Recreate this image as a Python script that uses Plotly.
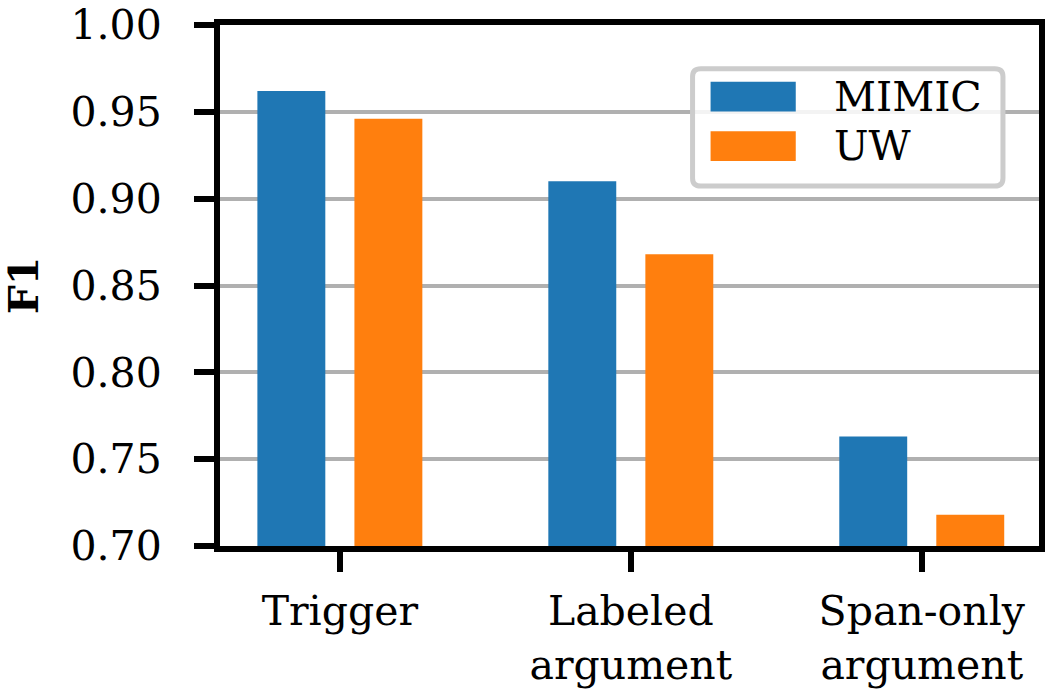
import plotly.graph_objects as go

# data
categories = ["Trigger", "Labeled<br>argument", "Span-only<br>argument"]
series_names = ["MIMIC", "UW"]
mimic_f1 = [0.962, 0.910, 0.763]
uw_f1 = [0.946, 0.868, 0.718]
y_ticks = [0.70, 0.75, 0.80, 0.85, 0.90, 0.95, 1.00]

colors = ["#1f77b4", "#ff7f0e"]
font = "DejaVu Serif"

fig = go.Figure()
for name, vals, c in zip(series_names, [mimic_f1, uw_f1], colors):
    fig.add_trace(go.Bar(x=list(range(len(categories))), y=vals, name=name,
                         marker=dict(color=c, line=dict(width=0)),
                         showlegend=False))

fig.update_layout(
    width=1050, height=691,
    margin=dict(l=220, r=11, t=25, b=145),
    plot_bgcolor="white", paper_bgcolor="white",
    barmode="group", bargap=0.333, bargroupgap=0.3,
    font=dict(family=font, size=41, color="black"),
)
fig.update_xaxes(
    range=[-0.412, 2.403], tickvals=list(range(len(categories))), ticktext=categories,
    showline=True, linecolor="black", linewidth=6, mirror=True,
    ticks="outside", ticklen=20, tickwidth=6, tickcolor="black",
    showgrid=False, ticklabelstandoff=4, ticklabeloverflow="allow",
    automargin=False,
)
fig.update_yaxes(
    range=[0.69995, 1.00005], tickvals=y_ticks, tickformat=".2f",
    showline=True, linecolor="black", linewidth=6, mirror=True,
    ticks="outside", ticklen=20, tickwidth=6, tickcolor="black",
    showgrid=True, gridcolor="#b0b0b0", gridwidth=4,
    ticklabelstandoff=24, ticklabeloverflow="allow", automargin=False,
    title=dict(text="<b>F1</b>", standoff=30, font=dict(size=41)),
)

# legend box, drawn by hand to get the large patches
bx0, bx1, by0, by1 = 0.577, 0.956, 0.691, 0.916
rx, ry = 0.010, 0.015
path = (f"M{bx0+rx},{by0} L{bx1-rx},{by0} Q{bx1},{by0} {bx1},{by0+ry} "
        f"L{bx1},{by1-ry} Q{bx1},{by1} {bx1-rx},{by1} L{bx0+rx},{by1} "
        f"Q{bx0},{by1} {bx0},{by1-ry} L{bx0},{by0+ry} Q{bx0},{by0} {bx0+rx},{by0} Z")
fig.add_shape(type="path", path=path, xref="paper", yref="paper",
              line=dict(color="#cccccc", width=5), fillcolor="rgba(255,255,255,0.85)",
              layer="above")
patch_y = [(0.834, 0.891), (0.739, 0.796)]
for name, c, (y0, y1) in zip(series_names, colors, patch_y):
    fig.add_shape(type="rect", xref="paper", yref="paper", x0=0.599, x1=0.703,
                  y0=y0, y1=y1, fillcolor=c, line=dict(width=0), layer="above")
    fig.add_annotation(x=0.747, y=(y0 + y1) / 2, xref="paper", yref="paper",
                       text=name, showarrow=False, xanchor="left", yanchor="middle",
                       font=dict(family=font, size=41, color="black"))

# page body has an 8px default margin; drop it so the figure sits at 0,0
fig.write_html("out.html", config={"displayModeBar": False},
               post_script="document.body.style.margin='0';")
